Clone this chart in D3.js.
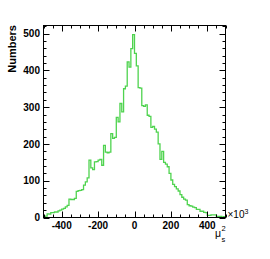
<!DOCTYPE html>
<html><head><meta charset="utf-8">
<script src="https://cdn.jsdelivr.net/npm/d3@7/dist/d3.min.js"></script>
<style>html,body{margin:0;padding:0;background:#fff;}svg{display:block;}</style>
</head><body>
<script>
// Histogram of mu_s^2 (x10^3), 100 bins from -500 to 500
const xDomain = [-500, 500];
const binEdges = d3.range(-500, 501, 10);
const counts = [
  3, 4, 10, 9, 13, 13, 15, 15, 18, 20,
  23, 25, 29, 33, 50, 49, 49, 52, 71, 73,
  74, 76, 88, 97, 108, 156, 135, 130, 151, 152,
  156, 158, 142, 196, 178, 176, 178, 228, 215, 218,
  272, 260, 310, 287, 350, 357, 423, 409, 459, 497,
  446, 412, 353, 352, 304, 302, 306, 278, 275, 245,
  248, 240, 232, 200, 158, 180, 150, 145, 138, 120,
  102, 90, 84, 78, 72, 62, 55, 50, 47, 35,
  32, 31, 28, 27, 22, 22, 17, 17, 14, 13,
  6, 6, 7, 7, 7, 3, 3, 3, 1, 2
];
const xTickLabels = [-400, -200, 0, 200, 400];
const yTickLabels = [0, 100, 200, 300, 400, 500];
const yMax = 522;

const W = 270, H = 259;
const L = 43.5, R = 225.5, T = 25.5, B = 217.5;
const svg = d3.select("body").append("svg").attr("width", W).attr("height", H);
const x = d3.scaleLinear().domain(xDomain).range([L, R]);
const y = d3.scaleLinear().domain([0, yMax]).range([B, T]);

// histogram outline
const pts = [];
counts.forEach((c, i) => {
  pts.push([x(binEdges[i]), y(c)]);
  pts.push([x(binEdges[i + 1]), y(c)]);
});
svg.append("path")
  .attr("d", d3.line()(pts))
  .attr("fill", "none")
  .attr("stroke", "#4fd34f")
  .attr("stroke-width", 1.3);

// frame
svg.append("rect").attr("x", L).attr("y", T).attr("width", R - L).attr("height", B - T)
  .attr("fill", "none").attr("stroke", "#000").attr("stroke-width", 1);

const tickG = svg.append("g").attr("stroke", "#000").attr("stroke-width", 1);
// x ticks (every 50, major every 200)
d3.range(-500, 501, 50).forEach(v => {
  const major = xTickLabels.includes(v);
  const len = major ? 6 : 3;
  const px = Math.round(x(v)) + 0.5;
  tickG.append("line").attr("x1", px).attr("x2", px).attr("y1", B).attr("y2", B - len);
  tickG.append("line").attr("x1", px).attr("x2", px).attr("y1", T).attr("y2", T + len);
});
// y ticks (every 20, major every 100)
d3.range(0, yMax, 20).forEach(v => {
  const major = yTickLabels.includes(v);
  const len = major ? 6 : 3;
  const py = Math.round(y(v)) + 0.5;
  tickG.append("line").attr("x1", L).attr("x2", L + len).attr("y1", py).attr("y2", py);
  tickG.append("line").attr("x1", R).attr("x2", R - len).attr("y1", py).attr("y2", py);
});

const font = "Liberation Sans, Arial, Helvetica, sans-serif";
// x labels
svg.append("g").selectAll("text").data(xTickLabels).join("text")
  .attr("x", d => x(d)).attr("y", 228.5)
  .attr("text-anchor", "middle").attr("font-family", font)
  .attr("font-weight", "bold").attr("font-size", 10)
  .text(d => d);
// y labels
svg.append("g").selectAll("text").data(yTickLabels).join("text")
  .attr("x", 40).attr("y", d => y(d) + 3.6)
  .attr("text-anchor", "end").attr("font-family", font)
  .attr("font-weight", "bold").attr("font-size", 10)
  .text(d => d);

// y title
svg.append("text")
  .attr("transform", "translate(16,25) rotate(-90)")
  .attr("text-anchor", "end").attr("font-family", font)
  .attr("font-weight", "bold").attr("font-size", 11)
  .text("Numbers");

// x10^3
const mult = svg.append("text").attr("x", 227.5).attr("y", 217.5)
  .attr("font-family", font).attr("font-size", 10);
mult.append("tspan").text("\u00d710");
mult.append("tspan").attr("font-size", 7).attr("dy", -4).text("3");

// x title mu_s^2
svg.append("text").attr("x", 215).attr("y", 236.5)
  .attr("font-family", font).attr("font-size", 10.5).text("\u03bc");
svg.append("text").attr("x", 221.5).attr("y", 241.5)
  .attr("font-family", font).attr("font-size", 7.5).text("s");
svg.append("text").attr("x", 221.5).attr("y", 230.5)
  .attr("font-family", font).attr("font-size", 7.5).text("2");
</script>
</body></html>
